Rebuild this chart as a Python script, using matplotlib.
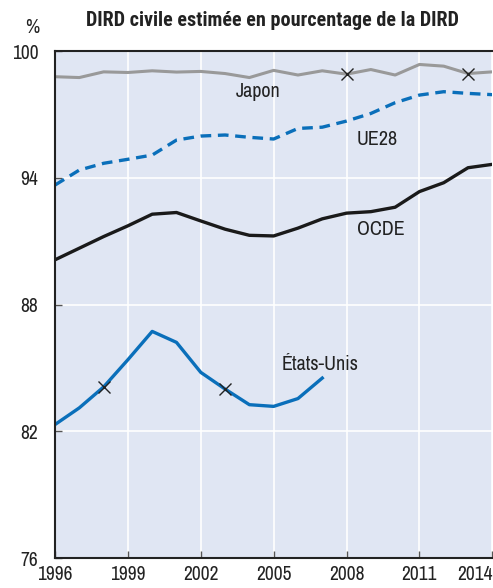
import matplotlib.pyplot as plt

# Daten
jahre = list(range(1996, 2015))

japon = [98.79, 98.75, 99.02, 98.99, 99.07, 99.01, 99.04, 98.94, 98.75, 99.09,
         98.87, 99.07, 98.91, 99.13, 98.87, 99.37, 99.29, 98.94, 99.02]
ue28 = [93.66, 94.37, 94.69, 94.88, 95.08, 95.79, 95.98, 96.03, 95.92, 95.84,
        96.34, 96.40, 96.69, 97.05, 97.56, 97.92, 98.08, 98.00, 97.94]
ocde = [90.12, 90.67, 91.22, 91.73, 92.28, 92.36, 91.96, 91.57, 91.28, 91.25,
        91.62, 92.06, 92.33, 92.40, 92.61, 93.35, 93.77, 94.48, 94.64]
etats_unis_jahre = list(range(1996, 2008))
etats_unis = [82.32, 83.11, 84.10, 85.39, 86.73, 86.21, 84.79, 84.00, 83.26, 83.18,
              83.55, 84.52]

# Rupturen in den Reihen (x-Markierungen)
bruch_japon = [2008, 2013]
bruch_us = [1998, 2003]

xticks = [1996, 1999, 2002, 2005, 2008, 2011, 2014]
yticks = [76, 82, 88, 94, 100]

blau = '#0a6fba'
grau = '#999999'
hintergrund = '#e0e6f3'
textfarbe = '#222222'

plt.rcParams['font.family'] = ['Archivo Narrow', 'DejaVu Sans']

fig = plt.figure(figsize=(4.93, 5.88), dpi=100)
ax = fig.add_axes([0.1116, 0.051, 0.887, 0.862])
ax.set_facecolor(hintergrund)

ax.plot(jahre, japon, color=grau, lw=2.2, solid_capstyle='butt')
ax.plot(jahre, ue28, color=blau, lw=2.4, dashes=(3.2, 2.0))
ax.plot(jahre, ocde, color='#1a1a1a', lw=2.4)
ax.plot(etats_unis_jahre, etats_unis, color=blau, lw=2.4)

# Markierungen fuer Brueche
ax.plot(bruch_japon, [japon[jahre.index(j)] for j in bruch_japon], 'x',
        color=textfarbe, ms=8, mew=1.0)
ax.plot(bruch_us, [etats_unis[etats_unis_jahre.index(j)] for j in bruch_us], 'x',
        color=textfarbe, ms=8, mew=1.0)

# Beschriftungen der Reihen
ax.text(2004.35, 98.1, 'Japon', fontsize=14.5, ha='center', va='center', color=textfarbe)
ax.text(2009.25, 95.8, 'UE28', fontsize=14.5, ha='center', va='center', color=textfarbe)
ax.text(2009.4, 91.55, 'OCDE', fontsize=14.5, ha='center', va='center', color=textfarbe)
ax.text(2006.9, 85.15, 'États-Unis', fontsize=14.5, ha='center', va='center', color=textfarbe)

ax.set_xlim(1996, 2014)
ax.set_ylim(76, 100)
ax.set_xticks(xticks)
ax.set_xticklabels([str(x) for x in xticks], fontsize=14, color=textfarbe)
ax.set_yticks(yticks)
ax.set_yticklabels([str(y) for y in yticks], fontsize=14, color=textfarbe)
ax.xaxis.get_ticklabels()[-1].set_horizontalalignment('right')
ax.tick_params(direction='in', length=5, width=1, color='#555555')
ax.tick_params(axis='x', pad=5)
ax.tick_params(axis='y', pad=12)

ax.grid(True, color='white', lw=1.2)
ax.set_axisbelow(True)
for s in ax.spines.values():
    s.set_color(textfarbe)
    s.set_linewidth(1.5)
ax.spines['right'].set_visible(False)

fig.text(0.065, 0.953, '%', fontsize=14, ha='center', va='center', color=textfarbe)
fig.text(0.553, 0.965, 'DIRD civile estimée en pourcentage de la DIRD', fontsize=14.5,
         fontweight='bold', ha='center', va='center', color=textfarbe,
         family=['Roboto Condensed', 'Archivo Narrow', 'DejaVu Sans'])

plt.savefig('out.png', dpi=100)
